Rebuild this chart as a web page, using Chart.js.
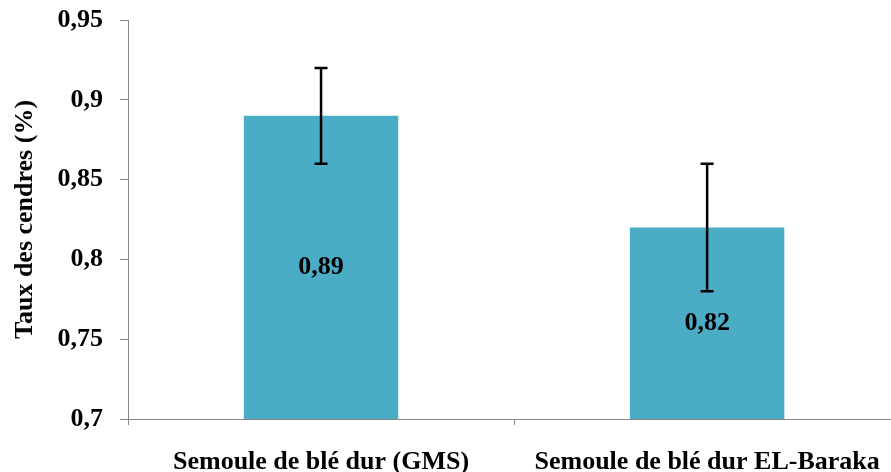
<!DOCTYPE html>
<html>
<head>
<meta charset="utf-8">
<script src="https://cdn.jsdelivr.net/npm/chart.js@4/dist/chart.umd.min.js"></script>
<style>
  html, body { margin: 0; padding: 0; background: #fff; overflow: hidden; }
  #wrap { width: 902px; height: 472px; }
</style>
</head>
<body>
<div id="wrap"><canvas id="chart-cendres"></canvas></div>
<script>
  // données
  const categories = ['Semoule de blé dur (GMS)', 'Semoule de blé dur EL-Baraka'];
  const valeurs = [0.89, 0.82];
  const erreurHaut = [0.92, 0.86];
  const erreurBas = [0.86, 0.78];
  const etiquettes = ['0,89', '0,82'];
  const yTicks = ['0,7', '0,75', '0,8', '0,85', '0,9', '0,95'];

  const police = '"Liberation Serif", "Times New Roman", serif';

  /* barres d'erreur + valeurs au centre des barres */
  const errorBars = {
    id: 'errorBars',
    afterDatasetsDraw(chart) {
      const { ctx, scales: { x, y } } = chart;
      ctx.save();
      valeurs.forEach((v, i) => {
        let cx = x.getPixelForValue(i);
        let top = y.getPixelForValue(v);

        // texte
        ctx.fillStyle = '#000';
        ctx.font = 'bold 26px ' + police;
        ctx.textAlign = 'center';
        ctx.textBaseline = 'middle';
        ctx.fillText(etiquettes[i], cx, (top + y.bottom) / 2);

        // erreur
        let haut = y.getPixelForValue(erreurHaut[i]);
        let bas = y.getPixelForValue(erreurBas[i]);
        ctx.strokeStyle = '#000';
        ctx.lineWidth = 2.5;
        ctx.beginPath();
        ctx.moveTo(cx, haut);
        ctx.lineTo(cx, bas);
        ctx.moveTo(cx - 6.5, haut);
        ctx.lineTo(cx + 6.5, haut);
        ctx.moveTo(cx - 6.5, bas);
        ctx.lineTo(cx + 6.5, bas);
        ctx.stroke();
      });
      ctx.restore();
    }
  };

  let canvas = document.getElementById('chart-cendres').getContext('2d');

  let chart = new Chart(canvas, {
    type: 'bar',
    data: {
      labels: categories,
      datasets: [{
        label: 'Taux des cendres',
        backgroundColor: '#4bacc6',
        data: valeurs,
        barPercentage: 0.4,
        categoryPercentage: 1
      }]
    },
    options: {
      responsive: true,
      maintainAspectRatio: false,
      animation: false,
      layout: { padding: { top: 20, right: 1, left: 10, bottom: 0 } },
      plugins: { legend: { display: false }, tooltip: { enabled: false } },
      scales: {
        x: {
          afterFit(scale) { scale.height = 53; },
          border: { color: '#868686', width: 1 },
          grid: { drawOnChartArea: false, drawTicks: true, tickLength: 6, color: '#868686' },
          ticks: {
            color: '#000',
            padding: 22,
            maxRotation: 0,
            autoSkip: false,
            font: { family: police, size: 26, weight: 'bold' }
          }
        },
        y: {
          min: 0.7,
          max: 0.95,
          afterFit(scale) {
            scale.width = 118;
            scale.paddingTop = 0;
            scale.paddingBottom = 0;
          },
          border: { color: '#868686', width: 1 },
          grid: { drawOnChartArea: false, drawTicks: true, tickLength: 8, color: '#868686' },
          ticks: {
            stepSize: 0.05,
            color: '#000',
            padding: 17,
            font: { family: police, size: 26, weight: 'bold' },
            callback: (v, i) => yTicks[i]
          },
          title: {
            display: true,
            text: 'Taux des cendres (%)',
            color: '#000',
            padding: { top: 0, bottom: 0 },
            font: { family: police, size: 26, weight: 'bold' }
          }
        }
      }
    },
    plugins: [errorBars]
  });
</script>
</body>
</html>
